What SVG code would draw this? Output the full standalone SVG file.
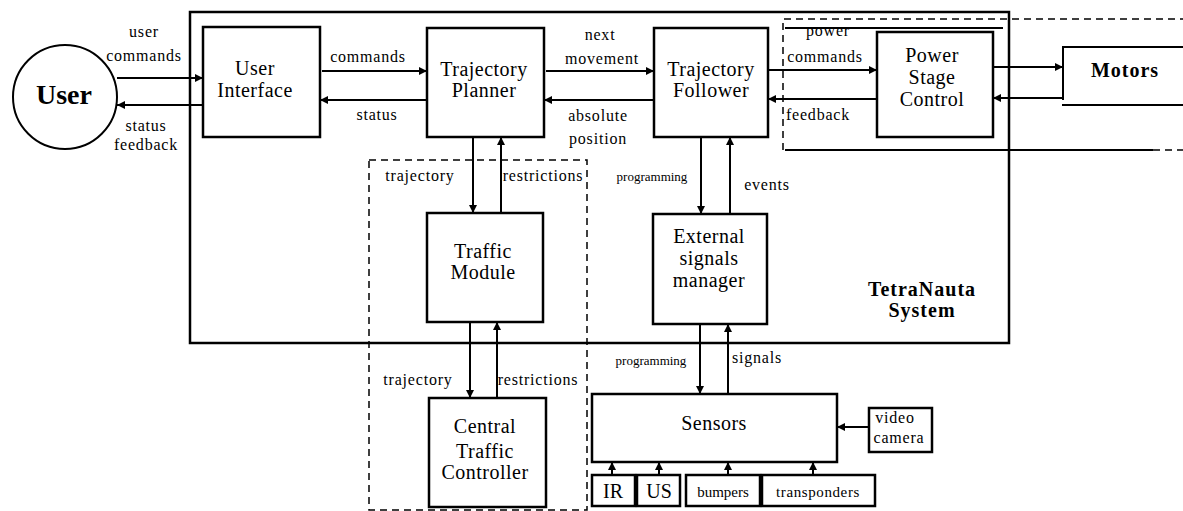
<svg xmlns="http://www.w3.org/2000/svg" width="1183" height="511" viewBox="0 0 1183 511">
<defs>
<marker id="ah" viewBox="0 0 10 10" refX="10" refY="5" markerWidth="4" markerHeight="4" orient="auto" markerUnits="strokeWidth">
<path d="M0,0 L10,5 L0,10 z" fill="#000"/>
</marker>
<style>
.box{fill:#fff;stroke:#000;stroke-width:2.5}
.frame{fill:none;stroke:#000;stroke-width:2.5}
.dash{fill:none;stroke:#000;stroke-width:1.5;stroke-dasharray:7,5}
.ln{fill:none;stroke:#000;stroke-width:2}
.arr{fill:none;stroke:#000;stroke-width:2;marker-end:url(#ah)}
text{font-family:"Liberation Serif","Times New Roman",serif;fill:#000;text-anchor:middle}
.t{font-size:20px;letter-spacing:0.5px}
.l{font-size:16px;letter-spacing:0.8px}
.s{font-size:13px}
.b{font-weight:bold}
</style>
</defs>
<rect width="1183" height="511" fill="#fff"/>

<g id="system">
<rect class="frame" x="190" y="12" width="819" height="331"/>
<text class="b" x="922" y="296" font-size="20" letter-spacing="1">TetraNauta</text>
<text class="b" x="922" y="317" font-size="20" letter-spacing="1">System</text>
</g>

<g id="traffic-zone">
<rect class="dash" x="369" y="160" width="218" height="350"/>
</g>

<g id="power-zone">
<path class="dash" d="M783,150 L783,19 L1183,19"/>
<path class="ln" d="M785,28 L1003,28"/>
<path class="ln" d="M785,150 L1153,150"/>
<path class="dash" d="M1153,150 L1183,150"/>
</g>

<g id="user">
<circle cx="65" cy="97" r="52" fill="#fff" stroke="#000" stroke-width="2"/>
<text class="b" x="64" y="104" font-size="28">User</text>
</g>

<g id="user-interface">
<rect class="box" x="203" y="27" width="117" height="110"/>
<text class="t" x="255" y="75">User</text>
<text class="t" x="255" y="97">Interface</text>
</g>

<g id="trajectory-planner">
<rect class="box" x="427" y="28" width="117" height="109"/>
<text class="t" x="484" y="76">Trajectory</text>
<text class="t" x="484" y="97">Planner</text>
</g>

<g id="trajectory-follower">
<rect class="box" x="654" y="28" width="114" height="109"/>
<text class="t" x="711" y="76">Trajectory</text>
<text class="t" x="711" y="97">Follower</text>
</g>

<g id="power-stage-control">
<rect class="box" x="877" y="32" width="116" height="105"/>
<text class="t" x="932" y="62">Power</text>
<text class="t" x="932" y="84">Stage</text>
<text class="t" x="932" y="106">Control</text>
</g>

<g id="motors">
<path d="M1183,47 L1063,47 L1063,100 M1062,105 L1183,105" fill="none" stroke="#000" stroke-width="2"/>
<text class="b" x="1125" y="77" font-size="20" letter-spacing="1">Motors</text>
</g>

<g id="traffic-module">
<rect class="box" x="427" y="213" width="116" height="109"/>
<text class="t" x="483" y="258">Traffic</text>
<text class="t" x="483" y="279">Module</text>
</g>

<g id="central-traffic-controller">
<rect class="box" x="429" y="398" width="117" height="109"/>
<text class="t" x="485" y="433">Central</text>
<text class="t" x="485" y="458">Traffic</text>
<text class="t" x="485" y="479">Controller</text>
</g>

<g id="external-signals-manager">
<rect class="box" x="653" y="214" width="114" height="110"/>
<text class="t" x="709" y="243">External</text>
<text class="t" x="709" y="265">signals</text>
<text class="t" x="709" y="287">manager</text>
</g>

<g id="sensors">
<rect class="box" x="592" y="394" width="245" height="68"/>
<text class="t" x="714" y="430">Sensors</text>
</g>

<g id="video-camera">
<rect class="box" x="869" y="408" width="63" height="44" stroke-width="2"/>
<text class="l" x="895" y="423" letter-spacing="0.3">video</text>
<text class="l" x="899" y="443" letter-spacing="0.3">camera</text>
</g>

<g id="ir">
<rect class="box" x="592" y="475" width="43" height="31" stroke-width="2"/>
<text x="613" y="498" font-size="20">IR</text>
</g>
<g id="us">
<rect class="box" x="637" y="475" width="43" height="31" stroke-width="2"/>
<text x="659" y="498" font-size="20">US</text>
</g>
<g id="bumpers">
<rect class="box" x="686" y="475" width="74" height="31" stroke-width="2"/>
<text x="723" y="497" font-size="15">bumpers</text>
</g>
<g id="transponders">
<rect class="box" x="762" y="475" width="113" height="31" stroke-width="2"/>
<text x="818" y="497" font-size="15" letter-spacing="0.6">transponders</text>
</g>

<g id="connectors">
<path class="arr" d="M117,78 L203,78"/>
<path class="arr" d="M203,105 L117,105"/>
<path class="arr" d="M322,71 L427,71"/>
<path class="arr" d="M427,100 L320,100"/>
<path class="arr" d="M546,71 L654,71"/>
<path class="arr" d="M654,100 L544,100"/>
<path class="arr" d="M768,70 L877,70"/>
<path class="arr" d="M877,99 L768,99"/>
<path class="arr" d="M993,67 L1063,67"/>
<path class="arr" d="M1063,98 L993,98"/>
<path class="arr" d="M473,137 L473,213"/>
<path class="arr" d="M501,213 L501,137"/>
<path class="arr" d="M470,322 L470,398"/>
<path class="arr" d="M497,398 L497,322"/>
<path class="arr" d="M701,137 L701,214"/>
<path class="arr" d="M730,214 L730,137"/>
<path class="arr" d="M700,324 L700,394"/>
<path class="arr" d="M728,394 L728,324"/>
<path class="arr" d="M869,427 L837,427"/>
<path class="arr" d="M612,475 L612,462"/>
<path class="arr" d="M659,475 L659,462"/>
<path class="arr" d="M728,475 L728,462"/>
<path class="arr" d="M813,475 L813,462"/>

<text class="l" x="144" y="37">user</text>
<text class="l" x="144" y="61">commands</text>
<text class="l" x="146" y="131">status</text>
<text class="l" x="146" y="150">feedback</text>
<text class="l" x="368" y="62">commands</text>
<text class="l" x="377" y="120">status</text>
<text class="l" x="600" y="40">next</text>
<text class="l" x="602" y="64">movement</text>
<text class="l" x="598" y="121">absolute</text>
<text class="l" x="598" y="144">position</text>
<text class="l" x="828" y="36">power</text>
<text class="l" x="825" y="62">commands</text>
<text class="l" x="818" y="120">feedback</text>
<text class="l" x="420" y="181">trajectory</text>
<text class="l" x="543" y="181">restrictions</text>
<text class="l" x="418" y="385">trajectory</text>
<text class="l" x="538" y="385">restrictions</text>
<text class="s" x="652" y="181">programming</text>
<text class="l" x="767" y="190">events</text>
<text class="s" x="651" y="365">programming</text>
<text class="l" x="757" y="363">signals</text>
</g>
</svg>
